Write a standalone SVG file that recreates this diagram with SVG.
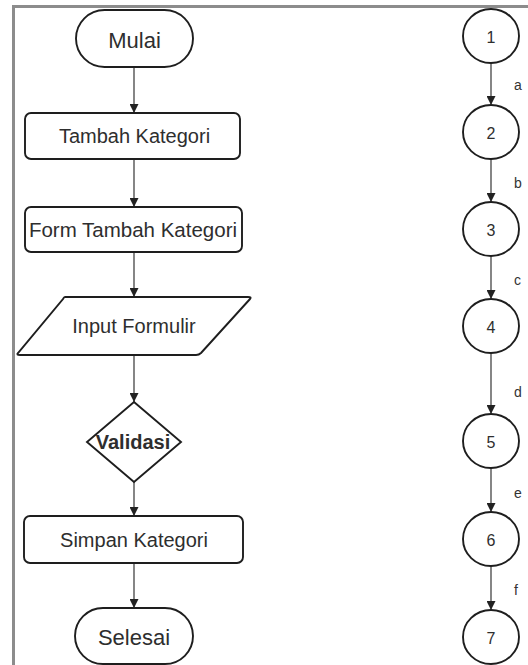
<svg xmlns="http://www.w3.org/2000/svg" width="528" height="665" viewBox="0 0 528 665">
<defs>
<marker id="ah" viewBox="0 0 10 10" refX="10" refY="5" markerWidth="9" markerHeight="9" markerUnits="userSpaceOnUse" orient="auto">
<path d="M0,0 L10,5 L0,10 Z" fill="#222"/>
</marker>
<style>
.shape{fill:#fff;stroke:#1e1e1e;stroke-width:1.9}
.t{font-family:"Liberation Sans",Arial,sans-serif;fill:#2e2e2e;text-anchor:middle;dominant-baseline:central}
.conn{stroke:#444;stroke-width:1.3;fill:none;marker-end:url(#ah)}
.lbl{font-family:"Liberation Sans",Arial,sans-serif;fill:#333;font-size:14px}
.frame{stroke:#8c8c8c;stroke-width:3;fill:none}
</style>
</defs>
<rect width="528" height="665" fill="#fff"/>
<path class="frame" d="M13.5,665 L13.5,6.5 L528,6.5"/>
<g id="connectors">
<line class="conn" x1="134" y1="67" x2="134" y2="113"/>
<line class="conn" x1="134" y1="159" x2="134" y2="207"/>
<line class="conn" x1="134" y1="252" x2="134" y2="297"/>
<line class="conn" x1="134" y1="355" x2="134" y2="402"/>
<line class="conn" x1="134" y1="482" x2="134" y2="516"/>
<line class="conn" x1="134" y1="563" x2="134" y2="608"/>
<line class="conn" x1="491" y1="63" x2="491" y2="105"/>
<line class="conn" x1="491" y1="159" x2="491" y2="202"/>
<line class="conn" x1="491" y1="256" x2="491" y2="299"/>
<line class="conn" x1="491" y1="353" x2="491" y2="414"/>
<line class="conn" x1="491" y1="468" x2="491" y2="512"/>
<line class="conn" x1="491" y1="566" x2="491" y2="610"/>
<text class="lbl" x="514" y="90">a</text>
<text class="lbl" x="514" y="188">b</text>
<text class="lbl" x="514" y="285">c</text>
<text class="lbl" x="514" y="397">d</text>
<text class="lbl" x="514" y="498">e</text>
<text class="lbl" x="514" y="595">f</text>
</g>
<g id="mulai">
<rect class="shape" x="76" y="10" width="117" height="57" rx="28.5" ry="28.5"/>
<text class="t" x="134.5" y="40" font-size="22">Mulai</text>
</g>
<g id="tambah">
<rect class="shape" x="25" y="113" width="215" height="46" rx="6"/>
<text class="t" x="134.5" y="136" font-size="20">Tambah Kategori</text>
</g>
<g id="form">
<rect class="shape" x="25" y="207" width="217" height="45" rx="6"/>
<text class="t" x="133" y="229.5" font-size="20.5">Form Tambah Kategori</text>
</g>
<g id="input">
<path class="shape" d="M65,297 L248,297 Q252,297 250,299 L201,353 Q199,355 196,355 L20,355 Q16,355 18,353 L63,299 Q64,297 65,297 Z"/>
<text class="t" x="134" y="326" font-size="20">Input Formulir</text>
</g>
<g id="validasi">
<path class="shape" d="M134,402 L181,442 L134,482 L87,442 Z"/>
<text class="t" x="133" y="442" font-size="20" font-weight="bold" fill="#222">Validasi</text>
</g>
<g id="simpan">
<rect class="shape" x="24" y="516" width="219" height="47" rx="6"/>
<text class="t" x="134" y="539.5" font-size="20">Simpan Kategori</text>
</g>
<g id="selesai">
<rect class="shape" x="75" y="608" width="118" height="56" rx="28" ry="28"/>
<text class="t" x="134" y="637" font-size="22">Selesai</text>
</g>
<g id="n1"><ellipse class="shape" cx="491" cy="36" rx="28" ry="27"/><text class="t" x="491" y="37" font-size="16">1</text></g>
<g id="n2"><ellipse class="shape" cx="491" cy="132" rx="28" ry="27"/><text class="t" x="491" y="133" font-size="16">2</text></g>
<g id="n3"><ellipse class="shape" cx="491" cy="229" rx="28" ry="27"/><text class="t" x="491" y="230" font-size="16">3</text></g>
<g id="n4"><ellipse class="shape" cx="491" cy="326" rx="28" ry="27"/><text class="t" x="491" y="327" font-size="16">4</text></g>
<g id="n5"><ellipse class="shape" cx="491" cy="441" rx="28" ry="27"/><text class="t" x="491" y="442" font-size="16">5</text></g>
<g id="n6"><ellipse class="shape" cx="491" cy="539" rx="28" ry="27"/><text class="t" x="491" y="540" font-size="16">6</text></g>
<g id="n7"><ellipse class="shape" cx="491" cy="637" rx="28" ry="27"/><text class="t" x="491" y="638" font-size="16">7</text></g>
</svg>
